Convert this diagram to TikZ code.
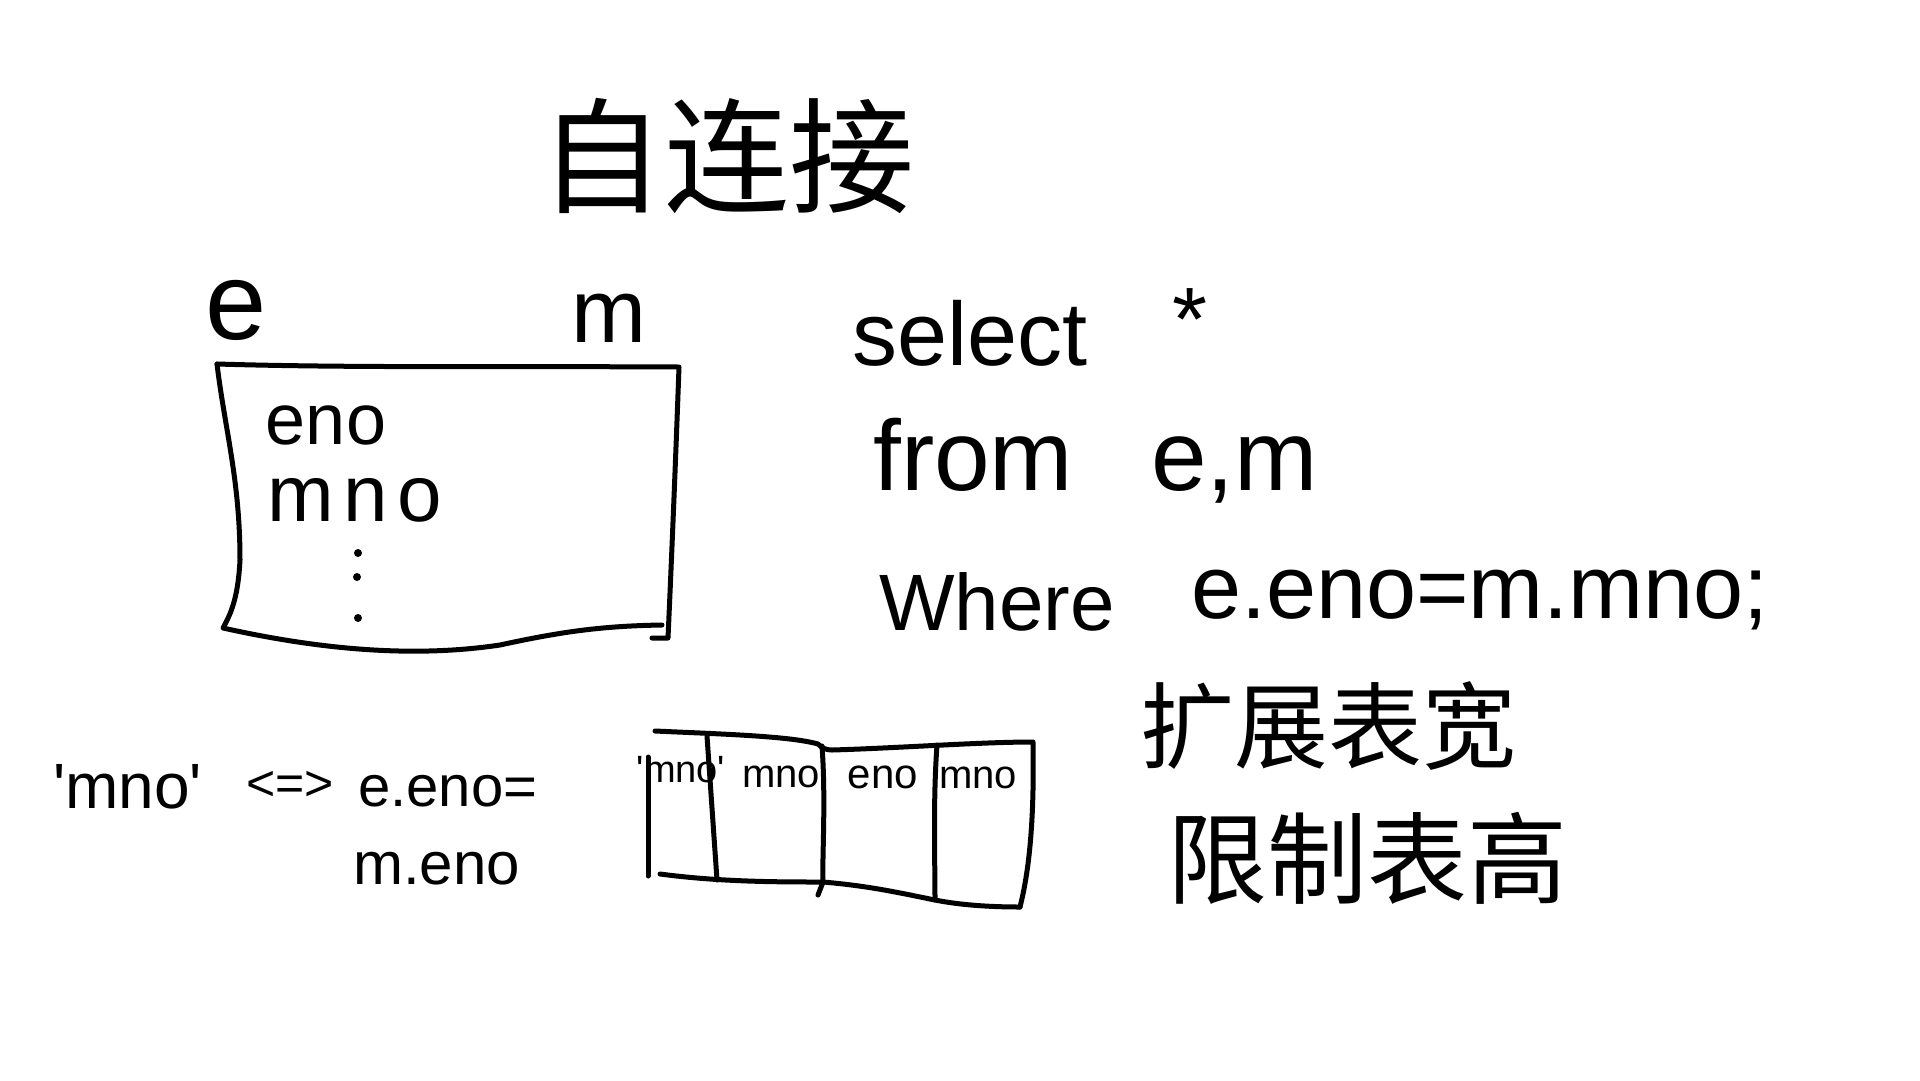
\documentclass[tikz,border=0pt]{standalone}
\usepackage{fontspec}
\setmainfont{Liberation Sans}
\newfontfamily\cjk{Noto Sans CJK SC}
\newcommand\fsz[1]{\fontsize{#1}{#1}\selectfont}
\newcommand\sq{\textquotesingle}
\begin{document}
\begin{tikzpicture}[x=1pt,y=-1pt,
  ink/.style={line width=5pt,line cap=round,line join=round,black},
  lbl/.style={inner sep=0pt,anchor=center},
  lblb/.style={inner sep=0pt,anchor=base west},
  dotmark/.style={fill=black,circle,inner sep=0pt,minimum size=8pt}]
\useasboundingbox[fill=white] (0,0) rectangle (1920,1080);
% title
\node[lbl,font=\cjk\fsz{125}] (title) at (727,156) {自连接};
% table e/m
\node[lbl,font=\fsz{110}] (le) at (236,310) {e};
\node[lbl,font=\fsz{90}] (lm) at (609,318) {m};
\draw[ink] (217,364) .. controls (350,368) and (500,366) .. (679,367)
  .. controls (676,450) and (672,550) .. (668,638) -- (652,638);
\draw[ink] (217,364) .. controls (225,430) and (240,480) .. (240,560)
  .. controls (238,600) and (230,615) .. (223,628)
  .. controls (300,645) and (400,660) .. (500,645)
  .. controls (560,632) and (600,626) .. (662,625);
\node[lbl,font=\fsz{72}] (eno) at (326,425) {eno};
\node[lbl,font=\fsz{80}\addfontfeature{LetterSpace=12}] (mno) at (355,500) {mno};
\node[dotmark] (d1) at (358,553) {};
\node[dotmark] (d2) at (357,577) {};
\node[dotmark] (d3) at (358,618) {};
% SQL
\node[lblb,font=\fsz{90}] (sel) at (852,365) {select};
\node[lbl,font=\fsz{90}] (star) at (1190,320) {*};
\node[lblb,font=\fsz{100}] (from) at (873,490) {from};
\node[lblb,font=\fsz{100}] (em) at (1151,490) {e,m};
\node[lblb,font=\fsz{80}] (where) at (879,630) {Where};
\node[lblb,font=\fsz{90}] (cond) at (1191,618) {e.eno=m.mno;};
% bottom left
\node[lblb,font=\fsz{64}] (q) at (53,808) {\sq mno\sq};
\node[lbl,font=\fsz{50}] (arr) at (290,786) {<=>};
\node[lblb,font=\fsz{58}] (c1) at (358,806) {e.eno=};
\node[lblb,font=\fsz{60}] (c2) at (353,884) {m.eno};
% bottom table
\draw[ink] (655,731) .. controls (720,734) and (790,736) .. (818,744)
  .. controls (822,748) and (826,750) .. (832,750)
  .. controls (900,748) and (980,742) .. (1033,742)
  .. controls (1034,800) and (1032,860) .. (1020,907);
\draw[ink] (648,757) -- (648,876);
\draw[ink] (660,874) .. controls (720,882) and (780,882) .. (823,882)
  .. controls (870,886) and (900,893) .. (935,900)
  .. controls (960,905) and (990,907) .. (1020,907);
\draw[ink] (707,736) -- (717,880);
\draw[ink] (822,746) .. controls (826,800) and (822,860) .. (823,882) -- (818,895);
\draw[ink] (937,745) .. controls (933,800) and (935,860) .. (935,900);
\node[lbl,font=\fsz{38}] (t1) at (681,770) {\sq mno\sq};
\node[lbl,font=\fsz{40}] (t2) at (781,777) {mno};
\node[lbl,font=\fsz{42}] (t3) at (883,777) {eno};
\node[lbl,font=\fsz{40}] (t4) at (978,778) {mno};
% chinese notes
\node[lbl,font=\cjk\fsz{94}] (w) at (1328,726) {扩展表宽};
\node[lbl,font=\cjk\fsz{100}] (h) at (1367,858) {限制表高};
\end{tikzpicture}
\end{document}
